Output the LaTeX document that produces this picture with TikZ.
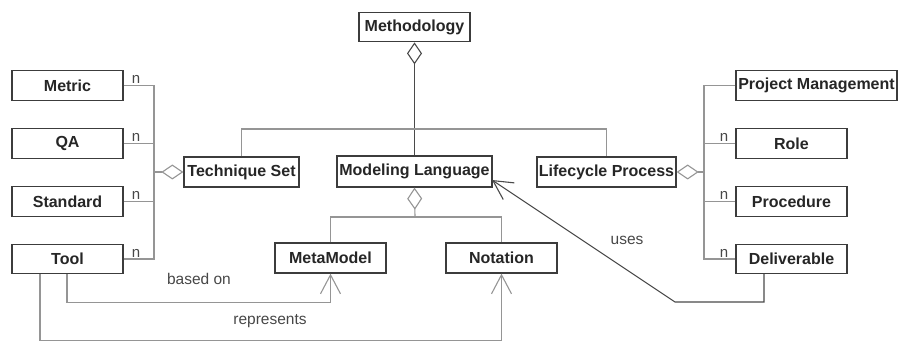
\documentclass[tikz,border=0pt]{standalone}
\usepackage{fontspec}
\setmainfont{Liberation Sans}
\usetikzlibrary{arrows.meta}
\definecolor{boxline}{HTML}{3C3C3C}
\definecolor{linklight}{HTML}{959595}
\definecolor{linkdark}{HTML}{4A4A4A}
\definecolor{txt}{HTML}{262626}
\tikzset{
  cls/.style={draw=boxline, line width=1.3pt, fill=white, inner sep=0pt,
    minimum height=29.5pt, text=txt,
    font=\fontsize{16}{18}\selectfont\bfseries},
  link/.style={draw=linklight, line width=1.1pt, line join=miter},
  darklink/.style={draw=linkdark, line width=1.1pt, line join=miter},
  aggr/.style={{Diamond[fill=white,length=22pt,width=15pt,line width=1.1pt]}-},
  dep/.style={-{Straight Barb[length=19pt,width=20pt,line width=1.1pt]}},
  lbl/.style={text=txt!85, font=\fontsize{15.5}{18}\selectfont, inner sep=0pt},
  mult/.style={text=txt!85, font=\fontsize{15}{18}\selectfont, inner sep=0pt}
}
\begin{document}
\begin{tikzpicture}[x=1pt, y=-1pt]
\useasboundingbox (0,0) rectangle (898,342);

% classes
\node[cls, minimum width=111pt] (meth) at (414.5,27) {Methodology};
\node[cls, minimum width=111pt] (metric) at (67.5,85.5) {Metric};
\node[cls, minimum width=111pt] (qa) at (67.5,143.5) {QA};
\node[cls, minimum width=111pt] (std) at (67.5,201.5) {Standard};
\node[cls, minimum width=111pt, minimum height=28.5pt] (tool) at (67.5,259) {Tool};
\node[cls, minimum width=115pt, minimum height=30pt] (tech) at (241.5,172) {Technique Set};
\node[cls, minimum width=155pt, minimum height=31pt] (ml) at (414.5,171.5) {Modeling Language};
\node[cls, minimum width=139pt, minimum height=30pt] (life) at (606.5,172) {Lifecycle Process};
\node[cls, minimum width=161pt] (pm) at (816.5,85.5) {Project Management};
\node[cls, minimum width=111pt] (role) at (791.5,143.5) {Role};
\node[cls, minimum width=111pt] (proc) at (791.5,201.5) {Procedure};
\node[cls, minimum width=111pt, minimum height=28.5pt] (deliv) at (791.5,259) {Deliverable};
\node[cls, minimum width=111pt, minimum height=30pt] (meta) at (330.5,258) {MetaModel};
\node[cls, minimum width=111pt, minimum height=30pt] (nota) at (501.5,258) {Notation};

% junction points
\coordinate (lbus) at (154,172);
\coordinate (rbus) at (704,172);
\coordinate (top) at (415,129);
\coordinate (mlsplit) at (415,217);
\coordinate (usesbend) at (675,302);
\coordinate (usestip) at (492,180);

% Methodology aggregates Modeling Language, Technique Set and Lifecycle Process
\path[darklink, aggr] (meth.south) -- (ml.north);
\draw[link] (tech.north) |- (top) -| (life.north);

% Technique Set parts
\path[link, aggr] (tech.west) -- (lbus);
\draw[link] (metric.east) -| (lbus);
\draw[link] (tool.east) -| (lbus);
\draw[link] (qa.east) -- (qa.east -| lbus);
\draw[link] (std.east) -- (std.east -| lbus);
\node[mult] at (136,79) {n};
\node[mult] at (136,137) {n};
\node[mult] at (136,195) {n};
\node[mult] at (136,253) {n};

% Lifecycle Process parts
\path[link, aggr] (life.east) -- (rbus);
\draw[link] (pm.west) -| (rbus);
\draw[link] (deliv.west) -| (rbus);
\draw[link] (role.west) -- (role.west -| rbus);
\draw[link] (proc.west) -- (proc.west -| rbus);
\node[mult] at (724,137) {n};
\node[mult] at (724,195) {n};
\node[mult] at (724,253) {n};

% Modeling Language parts
\path[link, aggr] (ml.south) -- (mlsplit);
\draw[link] (meta.north) |- (mlsplit) -| (nota.north);

% dependencies
\draw[darklink, dep] ([xshift=-27.5pt]deliv.south) |- (usesbend) -- (usestip);
\node[lbl] at (627,240) {uses};
\draw[link, dep] ([xshift=-0.5pt]tool.south) -- ++(0,29) -| (meta.south);
\node[lbl] at (199,279) {based on};
\draw[link, dep] ([xshift=-27.5pt]tool.south) -- ++(0,67) -| (nota.south);
\node[lbl] at (270,321) {represents};
\end{tikzpicture}
\end{document}
